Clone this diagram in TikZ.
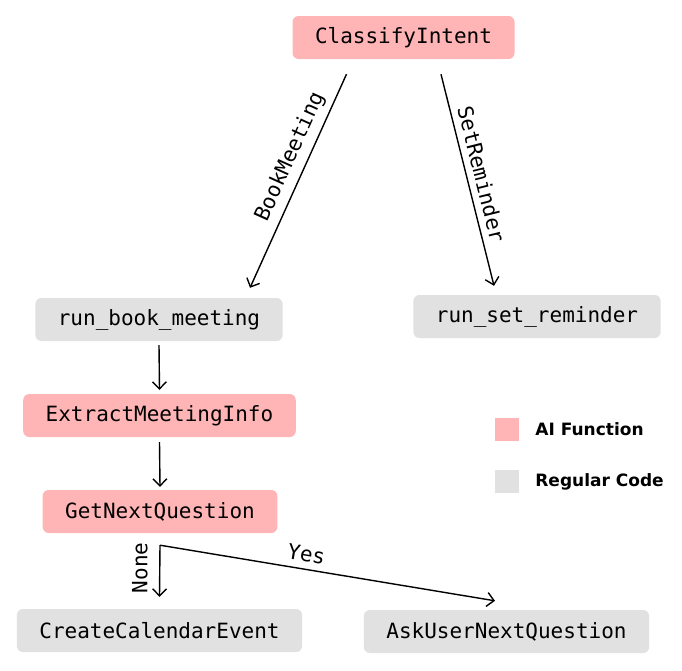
\documentclass[tikz,border=0pt]{standalone}
\usepackage{fontspec}
\setmonofont{DejaVu Sans Mono}
\newfontfamily\legendfont{DejaVu Sans}
\usepackage{tikz}
\usetikzlibrary{arrows.meta, calc}
\usepackage{xcolor}
\definecolor{aipink}{RGB}{255, 181, 181}
\definecolor{codegray}{RGB}{225, 225, 225}

\begin{document}
\begin{tikzpicture}[x=1pt, y=-1pt,
    box/.style={rounded corners=6pt, inner xsep=22.5pt, inner ysep=0pt,
                minimum height=43pt, font=\ttfamily\fontsize{21}{25}\selectfont},
    aibox/.style={box, fill=aipink},
    codebox/.style={box, fill=codegray},
    flow/.style={-{Straight Barb[length=7pt, width=14pt]}, line width=1.4pt},
    lbl/.style={font=\ttfamily\fontsize{21}{25}\selectfont, above=3pt}]
  \useasboundingbox (0,0) rectangle (682,670);

  % nodes
  \node[aibox]   (ci)  at (403.5,37.5) {ClassifyIntent};
  \node[codebox] (rbm) at (159,319.5)  {run\_book\_meeting};
  \node[codebox] (rsr) at (537,316.5)  {run\_set\_reminder};
  \node[aibox]   (emi) at (159.5,415.5) {ExtractMeetingInfo};
  \node[aibox]   (gnq) at (160,511.5)  {GetNextQuestion};
  \node[codebox] (cce) at (159.5,630.5) {CreateCalendarEvent};
  \node[codebox] (aun) at (506.5,631.5) {AskUserNextQuestion};

  % intent branches
  \draw[flow] ([shift={(-57pt,-15pt)}]ci.south)
        -- node[lbl, sloped, pos=0.42] {BookMeeting} ([shift={(91pt,10pt)}]rbm.north);
  \draw[flow] ([shift={(37.5pt,-15pt)}]ci.south)
        -- node[lbl, sloped, pos=0.49] {SetReminder} ([shift={(-43pt,9pt)}]rsr.north);

  % meeting flow
  \draw[flow] ([yshift=-4pt]rbm.south) -- ([yshift=4pt]emi.north);
  \draw[flow] ([yshift=-5pt]emi.south) -- ([yshift=3pt]gnq.north);

  % question branches
  \coordinate (split) at ([yshift=-12pt]gnq.south);
  \draw[flow] (split) -- node[rotate=90, lbl, above=5pt, pos=0.44] {None} ([yshift=12pt]cce.north);
  \draw[flow] (split) -- node[lbl, sloped, pos=0.43] {Yes} ([shift={(-11.5pt,9pt)}]aun.north);

  % legend
  \node[fill=aipink, minimum width=24pt, minimum height=23pt, inner sep=0pt] (aikey) at (507,429.5) {};
  \node[anchor=west, inner sep=0pt, font=\legendfont\bfseries\fontsize{17}{20}\selectfont]
        (aitxt) at ([xshift=16pt]aikey.east) {AI Function};
  \node[fill=codegray, minimum width=24pt, minimum height=23pt, inner sep=0pt] (codekey) at (507,481.5) {};
  \node[anchor=west, inner sep=0pt, font=\legendfont\bfseries\fontsize{17}{20}\selectfont]
        (codetxt) at ([xshift=16pt]codekey.east) {Regular Code};
\end{tikzpicture}
\end{document}
